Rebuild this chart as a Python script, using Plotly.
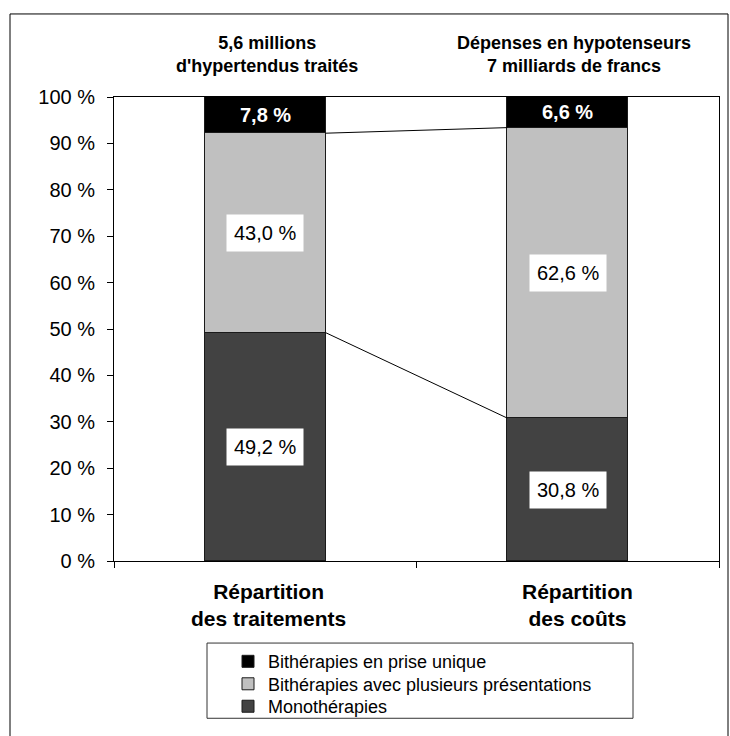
import plotly.graph_objects as go

# ---- data ----
categories = ["Répartition<br>des traitements", "Répartition<br>des coûts"]
headers = ["5,6 millions<br>d'hypertendus traités",
           "Dépenses en hypotenseurs<br>7 milliards de francs"]
series_names = ["Monothérapies",
                "Bithérapies avec plusieurs présentations",
                "Bithérapies en prise unique"]
mono = [49.2, 30.8]
plusieurs = [43.0, 62.6]
unique = [7.8, 6.6]
y_tick_values = [0, 10, 20, 30, 40, 50, 60, 70, 80, 90, 100]

# ---- style ----
FONT = "Liberation Sans, Arial, sans-serif"
colors = ["#424242", "#c0c0c0", "#000000"]
BAR_W = 0.4
W, H = 730, 736
ML, MR, MT, MB = 114, 11, 97, 164
PW, PH = W - ML - MR, H - MT - MB


def px2paper_x(px):
    return (px - ML) / PW


def px2paper_y(py):
    return (H - MB - py) / PH


def fmt(v):
    return f"{v:.1f}".replace(".", ",") + " %"


xs = list(range(len(categories)))
series = [mono, plusieurs, unique]
legend_ids = ["legend3", "legend2", "legend"]   # top entry -> "legend"

fig = go.Figure()
for name, vals, col, lg in zip(series_names, series, colors, legend_ids):
    fig.add_trace(go.Bar(
        x=xs, y=vals, name=name, width=BAR_W, legend=lg,
        marker=dict(color=col, line=dict(color="#1a1a1a", width=1)),
        hoverinfo="skip",
    ))

annotations = []
for i in xs:
    base = 0.0
    for k, vals in enumerate(series):
        v = vals[i]
        center = base + v / 2
        if k == 2:
            annotations.append(dict(
                x=i, y=center, xref="x", yref="y", text=f"<b>{fmt(v)}</b>",
                showarrow=False, font=dict(family=FONT, size=20, color="white")))
        else:
            annotations.append(dict(
                x=i, y=center, xref="x", yref="y", text=fmt(v),
                showarrow=False, bgcolor="white", borderpad=7,
                font=dict(family=FONT, size=20, color="black")))
        base += v

cum_mono = mono
cum_plus = [a + b for a, b in zip(mono, plusieurs)]
for cum in (cum_plus, cum_mono):
    fig.add_trace(go.Scatter(
        x=[xs[0] + BAR_W / 2, xs[1] - BAR_W / 2], y=[cum[0], cum[1]],
        mode="lines", line=dict(color="black", width=1),
        showlegend=False, hoverinfo="skip"))

header_x_shift = [2, 6]
for i, txt in enumerate(headers):
    annotations.append(dict(
        x=i, y=px2paper_y(53), xref="x", yref="paper", text=f"<b>{txt}</b>",
        xshift=header_x_shift[i], showarrow=False, yanchor="middle",
        font=dict(family=FONT, size=18, color="black")))

cat_x_shift = [3, 10]
for i, txt in enumerate(categories):
    annotations.append(dict(
        x=i, y=px2paper_y(617), xref="x", yref="paper", text=f"<b>{txt}</b>",
        xshift=cat_x_shift[i], showarrow=False, yanchor="middle",
        font=dict(family=FONT, size=21, color="black")))

shapes = [
    dict(type="rect", xref="paper", yref="paper",
         x0=px2paper_x(10), x1=px2paper_x(728),
         y0=px2paper_y(760), y1=px2paper_y(12),
         line=dict(color="black", width=1), fillcolor="rgba(0,0,0,0)", layer="below"),
    dict(type="rect", xref="paper", yref="paper",
         x0=px2paper_x(207), x1=px2paper_x(633),
         y0=px2paper_y(733), y1=px2paper_y(656),
         line=dict(color="#333333", width=1), fillcolor="rgba(0,0,0,0)"),
]

legend_style = dict(xanchor="left", yanchor="middle", bgcolor="rgba(0,0,0,0)",
                    borderwidth=0, font=dict(family=FONT, size=18, color="black"))
legend_rows_px = [675, 698, 721]

fig.update_layout(
    width=W, height=H,
    margin=dict(l=ML, r=MR, t=MT, b=MB, pad=0),
    paper_bgcolor="white", plot_bgcolor="white",
    barmode="stack", bargap=0,
    font=dict(family=FONT, size=20, color="black"),
    showlegend=True,
    legend=dict(x=px2paper_x(228), y=px2paper_y(legend_rows_px[0]), **legend_style),
    legend2=dict(x=px2paper_x(228), y=px2paper_y(legend_rows_px[1]), **legend_style),
    legend3=dict(x=px2paper_x(228), y=px2paper_y(legend_rows_px[2]), **legend_style),
    xaxis=dict(
        range=[-0.5, 1.5], tickmode="array", tickvals=[-0.5, 0.5, 1.5],
        showticklabels=False, ticks="outside", ticklen=6, tickcolor="black",
        showline=True, linecolor="black", linewidth=1, mirror=True,
        showgrid=False, zeroline=False, fixedrange=True,
    ),
    yaxis=dict(
        range=[0, 100], tickmode="array", tickvals=y_tick_values,
        ticktext=[f"{v} %" for v in y_tick_values],
        ticks="outside", ticklen=6, tickcolor="black",
        tickfont=dict(family=FONT, size=20, color="black"),
        ticklabelstandoff=8,
        showline=True, linecolor="black", linewidth=1, mirror=True,
        showgrid=False, zeroline=False, fixedrange=True,
    ),
    annotations=annotations,
    shapes=shapes,
)

fig.write_html("out.html", config={"displayModeBar": False},
               post_script="document.body.style.margin='0';document.body.style.overflow='hidden';")
